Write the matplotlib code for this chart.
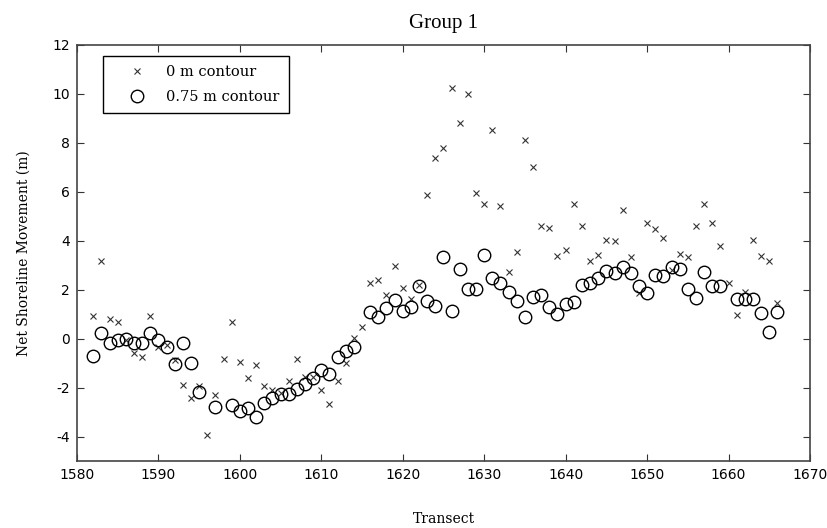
import numpy as np
import matplotlib
matplotlib.use('Agg')
import matplotlib.pyplot as plt

plt.rcParams['axes.unicode_minus'] = False

# transect numbers and net shoreline movement (m) for the two contours
transect = np.arange(1582, 1667)

zero_m = [0.94, 3.18, 0.81, 0.68, -0.05, -0.58, -0.76, 0.94, -0.33, -0.27,
          -0.88, -1.90, -2.44, -1.94, -3.94, -2.29, -0.84, 0.68, -0.94, -1.59,
          -1.08, -1.92, -2.10, -2.22, -1.75, -0.85, -1.56, -1.58, -2.10, -2.66,
          -1.73, -1.01, 0.04, 0.49, 2.28, 2.39, 1.77, 2.98, 2.08, 1.61,
          2.20, 5.87, 7.39, 7.80, 10.23, 8.82, 10.00, 5.96, 5.50, 8.52,
          5.42, 2.71, 3.53, 8.12, 7.03, 4.60, 4.53, 3.38, 3.62, 5.50,
          4.60, 3.17, 3.42, 4.03, 3.99, 5.26, 3.32, 1.88, 4.74, 4.47,
          4.10, 2.80, 3.44, 3.32, 4.60, 5.51, 4.74, 3.78, 2.28, 0.98,
          1.90, 4.03, 3.38, 3.18, 1.47]

contour_075 = [-0.70, 0.24, -0.19, -0.07, -0.01, -0.19, -0.19, 0.23, -0.07, -0.33,
               -1.04, -0.16, -0.98, -2.19, np.nan, -2.80, np.nan, -2.72, -2.96, -2.82,
               -3.22, -2.62, -2.41, -2.28, -2.25, -2.05, -1.85, -1.60, -1.29, -1.43,
               -0.76, -0.49, -0.34, np.nan, 1.10, 0.89, 1.25, 1.56, 1.14, 1.30,
               2.16, 1.55, 1.35, 3.32, 1.14, 2.83, 2.01, 2.01, 3.42, 2.46,
               2.26, 1.89, 1.55, 0.90, 1.69, 1.78, 1.30, 0.99, 1.40, 1.51,
               2.19, 2.26, 2.46, 2.78, 2.67, 2.91, 2.67, 2.16, 1.85, 2.60,
               2.56, 2.91, 2.83, 2.01, 1.65, 2.71, 2.14, 2.16, np.nan, 1.61,
               1.61, 1.61, 1.04, 0.28, 1.10]

label_font = {'family': 'DejaVu Serif', 'size': 10}

fig = plt.figure(figsize=(8.27, 5.28), dpi=100)
ax = fig.add_axes([0.0931, 0.1269, 0.8863, 0.7879])

ax.plot(transect, zero_m, linestyle='none', marker='x', markersize=4.5,
        markeredgewidth=0.8, color='#333333', label='0 m contour')
ax.plot(transect, contour_075, linestyle='none', marker='o', markersize=9,
        markerfacecolor='none', markeredgecolor='black', markeredgewidth=1.0,
        label='0.75 m contour')

ax.set_xlim(1580, 1670)
ax.set_ylim(-5, 12)
ax.set_xticks(np.arange(1580, 1671, 10))
ax.set_yticks(np.arange(-4, 13, 2))
ax.tick_params(direction='in', top=True, right=True, length=5, width=0.8,
               labelsize=10, colors='#333333', labelcolor='black', pad=5)
for s in ax.spines.values():
    s.set_color('#444444')
    s.set_linewidth(1.2)

ax.set_title('Group 1', fontdict={'family': 'Liberation Serif', 'size': 15}, pad=12)
ax.set_xlabel('Transect', fontdict=label_font, labelpad=22)
ax.set_ylabel('Net Shoreline Movement (m)', fontdict=label_font, labelpad=16)

leg = ax.legend(loc='upper left', bbox_to_anchor=(0.0355, 0.9736), borderaxespad=0,
                fancybox=False, edgecolor='black', framealpha=1,
                borderpad=0.6, handlelength=3.4, handletextpad=0.35,
                labelspacing=0.8, prop={'family': 'DejaVu Serif', 'size': 10.5})
leg.get_frame().set_linewidth(1.0)

fig.savefig('out.png', dpi=100)
